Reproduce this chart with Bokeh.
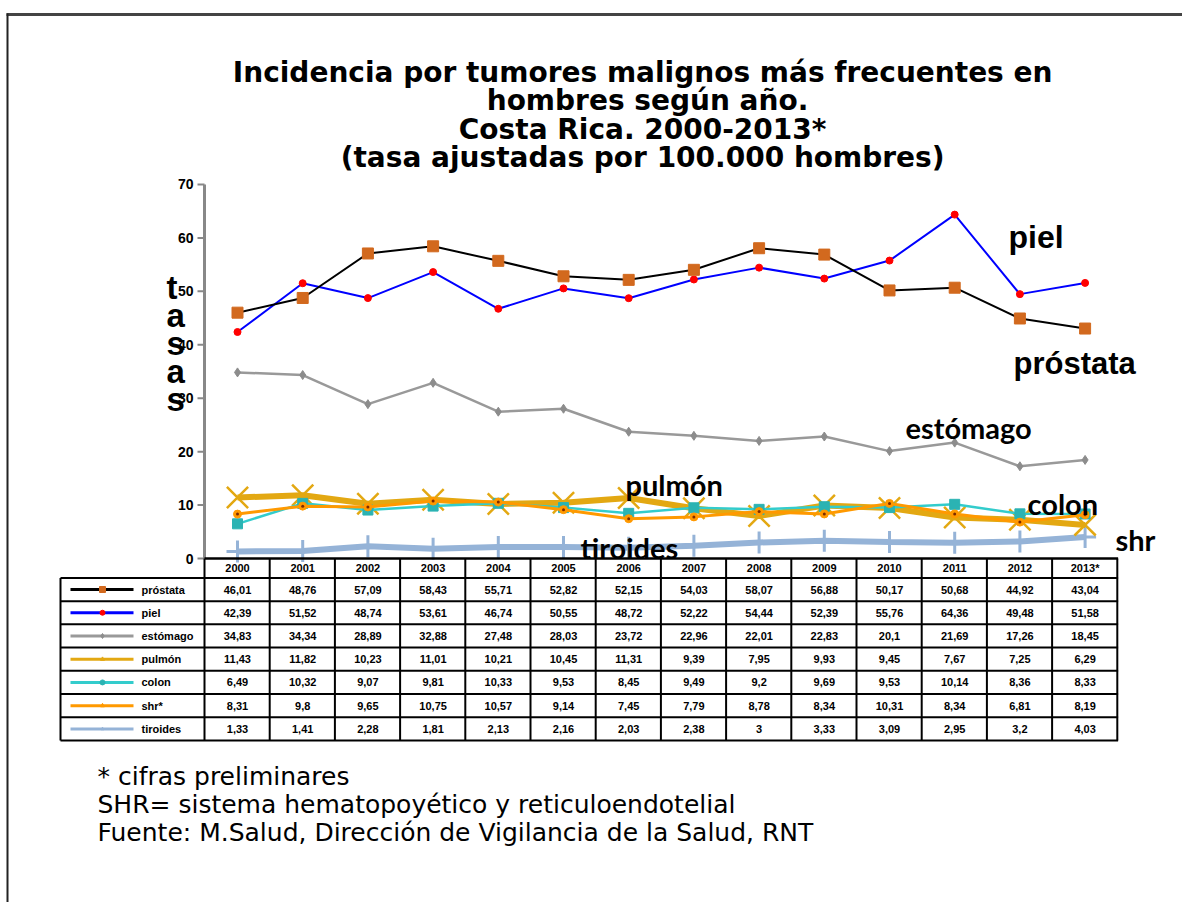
from bokeh.plotting import figure
from bokeh.models import Range1d
from bokeh.core.properties import value
from bokeh.embed import file_html
from bokeh.resources import INLINE

# ---------------- data ----------------
years = list(range(2000, 2014))
year_labels = ["2000", "2001", "2002", "2003", "2004", "2005", "2006",
               "2007", "2008", "2009", "2010", "2011", "2012", "2013*"]
prostata = [46.01, 48.76, 57.09, 58.43, 55.71, 52.82, 52.15, 54.03, 58.07, 56.88, 50.17, 50.68, 44.92, 43.04]
piel = [42.39, 51.52, 48.74, 53.61, 46.74, 50.55, 48.72, 52.22, 54.44, 52.39, 55.76, 64.36, 49.48, 51.58]
estomago = [34.83, 34.34, 28.89, 32.88, 27.48, 28.03, 23.72, 22.96, 22.01, 22.83, 20.1, 21.69, 17.26, 18.45]
pulmon = [11.43, 11.82, 10.23, 11.01, 10.21, 10.45, 11.31, 9.39, 7.95, 9.93, 9.45, 7.67, 7.25, 6.29]
colon = [6.49, 10.32, 9.07, 9.81, 10.33, 9.53, 8.45, 9.49, 9.2, 9.69, 9.53, 10.14, 8.36, 8.33]
shr = [8.31, 9.8, 9.65, 10.75, 10.57, 9.14, 7.45, 7.79, 8.78, 8.34, 10.31, 8.34, 6.81, 8.19]
tiroides = [1.33, 1.41, 2.28, 1.81, 2.13, 2.16, 2.03, 2.38, 3, 3.33, 3.09, 2.95, 3.2, 4.03]
series_names = ["próstata", "piel", "estómago", "pulmón", "colon", "shr*", "tiroides"]
y_ticks = [0, 10, 20, 30, 40, 50, 60, 70]

# ---------------- layout helpers (page pixels -> data) ----------------
PX0, DX = 237.0, 65.2      # page x of year 2000, px per year
PY0, DY = 558.0, 5.343     # page y of value 0, px per unit


def X(px):
    return 2000 + (px - PX0) / DX


def Y(py):
    return (PY0 - py) / DY


p = figure(width=1182, height=902, output_backend="svg", toolbar_location=None,
           x_range=Range1d(X(0), X(1182)), y_range=Range1d(Y(902), Y(0)),
           x_axis_type=None, y_axis_type=None, min_border=0)
p.grid.visible = False
p.outline_line_color = None
p.background_fill_color = "white"
p.border_fill_color = "white"


def txt(px, py, s, size, font="Liberation Sans", style="bold", align="left",
        baseline="middle", color="black"):
    p.text(x=[X(px)], y=[Y(py)], text=[s], text_font=value(font),
           text_font_size=size, text_font_style=style, text_align=align,
           text_baseline=baseline, text_color=color)


def seg(x0, y0, x1, y1, color="black", w=1.0):
    p.segment(x0=[X(x0)], y0=[Y(y0)], x1=[X(x1)], y1=[Y(y1)],
              line_color=color, line_width=w)


# page frame
seg(6, 14, 1182, 14, "#444444", 3)
seg(7, 13, 7, 902, "#222222", 2)

# ---------------- title ----------------
title_lines = ["Incidencia por tumores malignos  más frecuentes en",
               "hombres según año.",
               "Costa  Rica. 2000-2013*",
               "(tasa ajustadas por 100.000  hombres)"]
for i, t in enumerate(title_lines):
    txt(647, 72 + i * 28.3, t, "28px", font="DejaVu Sans", align="center")

# ---------------- y axis (drawn) ----------------
p.segment(x0=[X(204)], y0=[0], x1=[X(204)], y1=[70], line_color="#888888", line_width=3)
p.segment(x0=[X(197)] * len(y_ticks), y0=y_ticks, x1=[X(204)] * len(y_ticks), y1=y_ticks,
          line_color="#888888", line_width=2)
p.text(x=[X(193)] * len(y_ticks), y=y_ticks, text=[str(v) for v in y_ticks],
       text_font=value("Liberation Sans"), text_font_size="14px", text_font_style="bold",
       text_align="right", text_baseline="middle")

# vertical axis title "tasas"
for i, ch in enumerate("tasas"):
    txt(166, 287 + i * 28, ch, "33px")

# ---------------- series ----------------
C_PROS, C_PIEL, C_EST = "black", "#0000FF", "#999999"
C_PUL, C_COL, C_SHR, C_TIR = "#E3A812", "#33CCCC", "#FF9900", "#95B3D7"

p.line(years, tiroides, line_color=C_TIR, line_width=6)
p.scatter(years, tiroides, marker="cross", size=22, line_color=C_TIR, line_width=3)

p.line(years, pulmon, line_color=C_PUL, line_width=6)
p.scatter(years, pulmon, marker="x", size=30, line_color=C_PUL, line_width=2.5)

p.line(years, colon, line_color=C_COL, line_width=2.5)
p.scatter(years, colon, marker="square", size=10, fill_color="#2BB3B3", line_color="#2BB3B3")

p.line(years, shr, line_color=C_SHR, line_width=3)
p.scatter(years, shr, marker="circle", size=8, fill_color=C_SHR, line_color=C_SHR)
p.scatter(years, shr, marker="circle", size=3, fill_color="#7A2A00", line_color=None)

p.line(years, estomago, line_color=C_EST, line_width=2.5)
p.scatter(years, estomago, marker="diamond", size=9, fill_color="#8C8C8C", line_color="#8C8C8C")

p.line(years, piel, line_color=C_PIEL, line_width=2)
p.scatter(years, piel, marker="circle", size=7, fill_color="#FF0000", line_color="#FF0000")

p.line(years, prostata, line_color=C_PROS, line_width=2)
p.scatter(years, prostata, marker="square", size=11, fill_color="#D2691E", line_color="#D2691E")

# series labels
txt(1008, 236, "piel", "32px", baseline="alphabetic")
txt(1013, 363, "próstata", "31px", baseline="alphabetic")
txt(905, 427, "estómago", "29px", font="Lato", baseline="alphabetic")
txt(625, 484, "pulmón", "29px", font="Lato", baseline="alphabetic")
txt(1027, 503, "colon", "29px", font="Lato", baseline="alphabetic")
txt(1115, 539, "shr", "29px", font="Lato", baseline="alphabetic")
txt(580, 547, "tiroides", "29px", font="Lato", baseline="alphabetic")

# ---------------- data table ----------------
T_LEFT, T_COL0, T_RIGHT = 60.0, 204.0, 1117.6
H_TOP, B_TOP, B_BOT = 558.0, 577.4, 740.0
RH = (B_BOT - B_TOP) / 7

seg(T_COL0, H_TOP, T_RIGHT, H_TOP, "black", 2.5)
for k in range(15):
    xb = T_COL0 + k * DX
    seg(xb, H_TOP, xb, B_BOT, "black", 2)
seg(T_LEFT, B_TOP, T_LEFT, B_BOT, "black", 2)
for r in range(8):
    yb = B_TOP + r * RH
    seg(T_LEFT, yb, T_RIGHT, yb, "black", 2)

p.text(x=years, y=[Y(567.5)] * len(years), text=year_labels,
       text_font=value("Liberation Sans"), text_font_size="11px", text_font_style="bold",
       text_align="center", text_baseline="middle")

all_series = [prostata, piel, estomago, pulmon, colon, shr, tiroides]
leg_colors = [C_PROS, C_PIEL, C_EST, C_PUL, C_COL, C_SHR, C_TIR]
leg_marks = [("square", "#D2691E", 6), ("circle", "#FF0000", 5), ("diamond", "#8C8C8C", 5),
             ("triangle", C_PUL, 4), ("circle", "#2BB3B3", 5), ("triangle", C_SHR, 4),
             ("triangle", C_TIR, 3)]
for r, (name, vals) in enumerate(zip(series_names, all_series)):
    cy = B_TOP + (r + 0.5) * RH
    seg(70, cy, 133, cy, leg_colors[r], 3)
    m, mc, ms = leg_marks[r]
    p.scatter([X(102)], [Y(cy)], marker=m, size=ms, fill_color=mc, line_color=mc)
    txt(141, cy, name, "11px")
    p.text(x=years, y=[Y(cy)] * len(years),
           text=[format(v, "g").replace(".", ",") for v in vals],
           text_font=value("Liberation Sans"), text_font_size="11px", text_font_style="bold",
           text_align="center", text_baseline="middle")

# ---------------- footnotes ----------------
notes = ["* cifras preliminares",
         "SHR= sistema hematopoyético  y reticuloendotelial",
         "Fuente: M.Salud, Dirección de Vigilancia de la Salud, RNT"]
for i, t in enumerate(notes):
    txt(97, 776 + i * 28, t, "25px", font="DejaVu Sans", style="normal")

open("out.html", "w").write(file_html(p, INLINE))
